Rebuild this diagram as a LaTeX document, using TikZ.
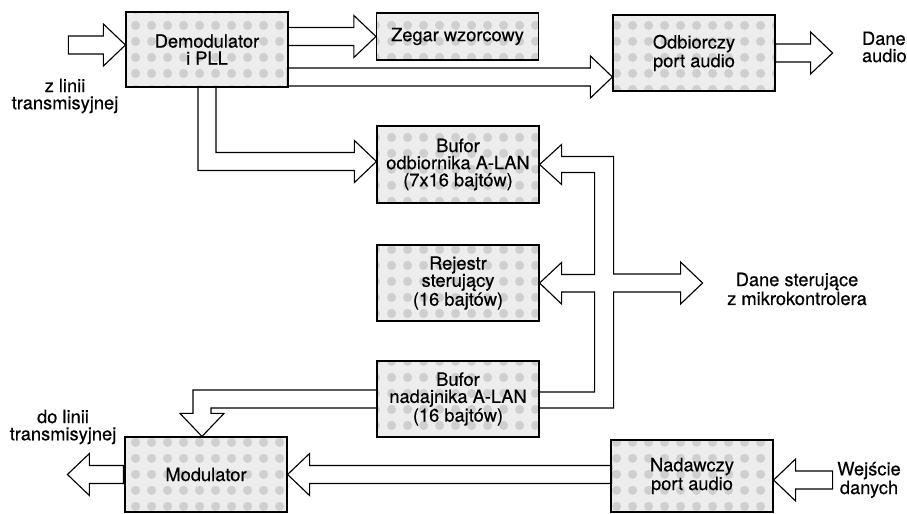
\documentclass[tikz,border=0pt]{standalone}
\usepackage{fontspec}
\setmainfont{TeX Gyre Heros}[FakeBold=0.4]
\usetikzlibrary{calc,patterns}

\pgfdeclarepatternformonly{kropki}{\pgfqpoint{0pt}{0pt}}{\pgfqpoint{11.4pt}{11.4pt}}{\pgfqpoint{11.4pt}{11.4pt}}{%
  \pgfpathcircle{\pgfqpoint{5.7pt}{5.7pt}}{3.4pt}\pgfusepath{fill}}

% hollow block arrow: #1 tip, #2 shaft length, #3 direction (1 right, -1 left)
\newcommand{\szyna}[3]{%
  \draw[bus] (#1) ++({-22*(#3)},-9) -- ++({-(#3)*(#2)},0) -- ++(0,18) -- ++({(#3)*(#2)},0) -- ++(0,12) -- (#1) -- ++({-22*(#3)},-21) -- cycle;}

\begin{document}
\begin{tikzpicture}[x=0.025cm,y=-0.025cm,
  blok/.style={draw,line width=.8pt,preaction={fill=gray!14},pattern=kropki,pattern color=gray!38,
    minimum width=4.05cm,minimum height=1.9cm,align=center,inner sep=0pt,font=\fontsize{13}{12.2}\selectfont},
  bus/.style={draw,line width=.8pt,line join=miter},
  opis/.style={align=center,font=\fontsize{13}{12.2}\selectfont}]
\useasboundingbox (0,0) rectangle (907,513);
% ---- bloki
\node[blok,minimum height=1.875cm] (demod) at (207,49.5) {Demodulator\\i PLL};
\node[blok,minimum height=1.175cm] (zegar) at (457.5,36.5) {Zegar wzorcowy};
\node[blok] (odb) at (694,53) {Odbiorczy\\port audio};
\node[blok,minimum height=1.925cm] (bufodb) at (458,164.5) {Bufor\\odbiornika A-LAN\\(7x16 bajtów)};
\node[blok] (rej) at (458,283) {Rejestr\\sterujący\\(16 bajtów)};
\node[blok] (bufnad) at (458,399) {Bufor\\nadajnika A-LAN\\(16 bajtów)};
\node[blok,minimum height=1.875cm] (mod) at (206,474.5) {Modulator};
\node[blok,minimum height=1.8cm] (nad) at (692,476) {Nadawczy\\port audio};
% ---- opisy
\node[opis] (zlinii) at (65,96) {z linii\\transmisyjnej};
\node[opis] (dolinii) at (63,427) {do linii\\transmisyjnej};
\node[opis,align=left,anchor=west] (audio) at (857,47) {Dane\\audio};
\node[opis] (ster) at (797,289) {Dane sterujące\\z mikrokontrolera};
\node[opis] (wej) at (869,480) {Wejście\\danych};
% ---- proste strzałki
\szyna{$(demod.west)+(0,-4.5)$}{35}{1}
\szyna{zegar.west}{66}{1}
\szyna{$(odb.west)+(0,24)$}{303}{1}
\szyna{$(odb.east)+(57,0)$}{35}{1}
\szyna{mod.east}{302}{-1}
\szyna{$(mod.west)+(-57,0)$}{34}{-1}
\szyna{$(nad.east)+(0,4)$}{37}{-1}
% ---- demodulator -> bufor odbiornika
\draw[bus] ($(demod.south)+(-9,0)$) |- ($(bufodb.west)+(-22,6)$) -- ++(0,12) -- ($(bufodb.west)+(0,-3)$) -- ++(-22,-21) -- ++(0,12) -| ($(demod.south)+(9,0)$);
% ---- bufor nadajnika -> modulator
\draw[bus] ($(bufnad.west)+(0,-9)$) -| ($(mod.north)+(-13,-23)$) -- ++(-13,0) -- ($(mod.north)+(-4,0)$) -- ++(22,-23) -- ++(-13,0) |- ($(bufnad.west)+(0,9)$);
% ---- magistrala sterujaca
\coordinate (sterowanie) at ($(rej.east)+(163,0)$);
\draw[bus] ($(bufnad.east)+(0,9)$) -- ++(74,0) |- ($(sterowanie)+(-22,9)$) -- ++(0,12) -- (sterowanie) -- ++(-22,-21) -- ++(0,12) -- ++(-67,0)
  |- ($(bufodb.east)+(22,-8)$) -- ++(0,-12) -- (bufodb.east) -- ++(22,20) -- ++(0,-12) -- ++(33,0)
  |- ($(rej.east)+(22,-8.5)$) -- ++(0,-12) -- (rej.east) -- ++(22,21) -- ++(0,-12) -- ++(33,0)
  |- ($(bufnad.east)+(0,-7)$);
\end{tikzpicture}
\end{document}
